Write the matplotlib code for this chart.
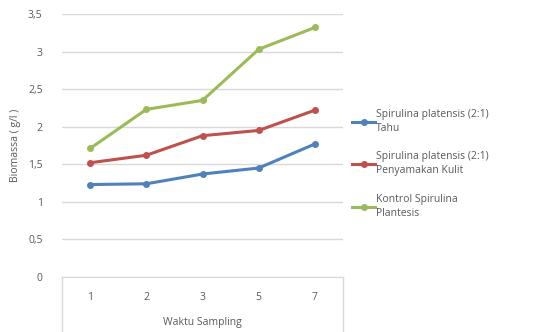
import numpy as np
import matplotlib.pyplot as plt
from matplotlib.lines import Line2D

categories = ['1', '2', '3', '5', '7']
tahu = [1.23, 1.24, 1.37, 1.45, 1.77]
kulit = [1.52, 1.62, 1.88, 1.95, 2.22]
kontrol = [1.71, 2.23, 2.35, 3.03, 3.32]
labels = ['Spirulina platensis (2:1)\nTahu',
          'Spirulina platensis (2:1)\nPenyamakan Kulit',
          'Kontrol Spirulina\nPlantesis']
colors = ['#4F81BD', '#C0504D', '#9BBB59']
yticks = [0, 0.5, 1, 1.5, 2, 2.5, 3, 3.5]
ytick_labels = ['0', '0,5', '1', '1,5', '2', '2,5', '3', '3,5']

plt.rcParams['font.family'] = ['Open Sans', 'DejaVu Sans']
txt = '#595959'

fig = plt.figure(figsize=(5.36, 3.32), dpi=100)
ax = fig.add_axes([0.1157, 0.1657, 0.5243, 0.7923])
x = np.arange(len(categories))
for series, c, lab in zip([tahu, kulit, kontrol], colors, labels):
    ax.plot(x, series, color=c, lw=2.2, marker='o', ms=4, label=lab)

ax.set_xlim(-0.5, len(categories) - 0.5)
ax.set_ylim(0, 3.5)
ax.set_yticks(yticks)
ax.set_yticklabels(ytick_labels)
ax.set_xticks(x)
ax.set_xticklabels(categories)
ax.grid(axis='y', color='#D9D9D9', lw=1)
ax.set_axisbelow(True)
for s in ax.spines.values():
    s.set_visible(False)
ax.spines['bottom'].set_visible(True)
ax.spines['bottom'].set_color('#D9D9D9')
ax.tick_params(axis='both', length=0, labelsize=7.5, colors=txt)
ax.tick_params(axis='y', pad=14)
ax.tick_params(axis='x', pad=11)
# category axis box
for xe in [0, 1]:
    ax.add_line(Line2D([xe, xe], [0, -0.3], transform=ax.transAxes,
                       color='#D9D9D9', lw=1, clip_on=False))
ax.set_ylabel('Biomassa ( g/l )', fontsize=7.5, color=txt, labelpad=5)
ax.set_xlabel('Waktu Sampling', fontsize=7.5, color=txt, labelpad=10)

leg = ax.legend(loc='center left', bbox_to_anchor=(1.0, 0.43), frameon=False,
                fontsize=7.5, labelcolor=txt, handlelength=2.2,
                handletextpad=0.1, labelspacing=1.7)
for t in leg.get_texts():
    t.set_linespacing(1.35)

fig.savefig('out.png', dpi=100)
